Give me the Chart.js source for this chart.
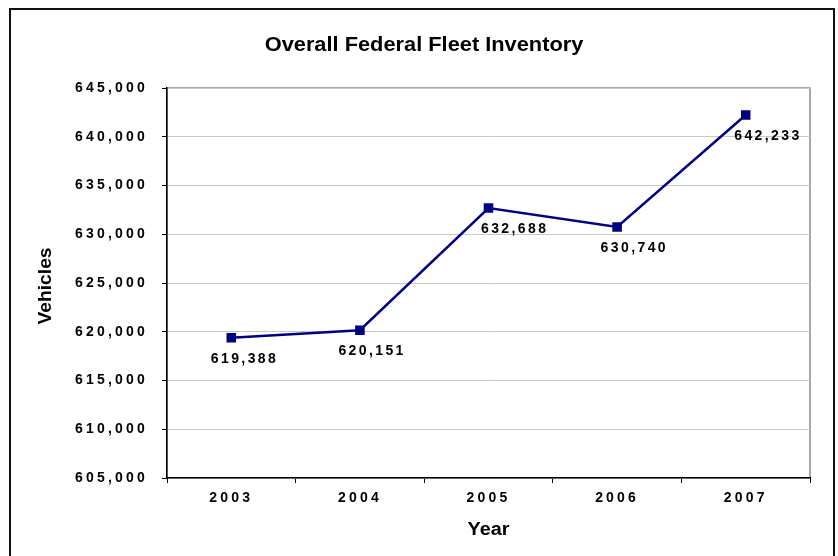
<!DOCTYPE html>
<html>
<head>
<meta charset="utf-8">
<title>Overall Federal Fleet Inventory</title>
<script src="https://cdn.jsdelivr.net/npm/chart.js@4.4.1/dist/chart.umd.min.js"></script>
<style>
  html, body { margin: 0; padding: 0; background: #fff; }
  #chart { display: block; }
</style>
</head>
<body>
<canvas id="chart" width="838" height="556"></canvas>
<script>
// data
const years = ['2003', '2004', '2005', '2006', '2007'];
const vehicles = [619388, 620151, 632688, 630740, 642233];
const yMin = 605000;
const yMax = 645000;
const yStep = 5000;

const chartTitle = 'Overall Federal Fleet Inventory';
const xTitle = 'Year';
const yTitle = 'Vehicles';

const FONT = "'Liberation Sans', Arial, sans-serif";

// text drawn squeezed/stretched sideways like the original export
function wideText(ctx, text, x, y, sx, angle) {
  ctx.save();
  ctx.translate(x, y);
  ctx.rotate(angle || 0);
  ctx.scale(sx, 1);
  ctx.fillText(text, 0, 0);
  ctx.restore();
}

const framePlugin = {
  id: 'frame',
  beforeDraw(chart) {
    const ctx = chart.ctx;
    const a = chart.chartArea;
    ctx.save();
    ctx.fillStyle = '#fff';
    ctx.fillRect(0, 0, chart.width, chart.height);
    // outer border of the chart object
    ctx.strokeStyle = '#111';
    ctx.lineWidth = 2;
    ctx.strokeRect(10, 9, 824, 600);
    // plot area border (gray top/right)
    ctx.strokeStyle = '#8c8c8c';
    ctx.lineWidth = 1.5;
    ctx.strokeRect(a.left, a.top, a.right - a.left, a.bottom - a.top);
    ctx.restore();
    // tick labels in the original are spaced out
    ctx.letterSpacing = '3.2px';
  },
  afterDatasetsDraw(chart, args, opts) {
    const ctx = chart.ctx;
    const meta = chart.getDatasetMeta(0);
    ctx.save();
    ctx.letterSpacing = opts.spacing + 'px';
    ctx.font = 'bold 14px ' + FONT;
    ctx.fillStyle = '#000';
    ctx.textAlign = 'center';
    ctx.textBaseline = 'middle';
    meta.data.forEach((pt, i) => {
      const text = vehicles[i].toLocaleString('en-US');
      ctx.fillText(text, pt.x + opts.nudge[i] + opts.spacing / 2, pt.y + opts.drop);
    });
    ctx.restore();
  },
  afterDraw(chart) {
    const ctx = chart.ctx;
    const a = chart.chartArea;
    ctx.save();
    ctx.letterSpacing = '0px';
    ctx.fillStyle = '#000';
    ctx.textAlign = 'center';
    ctx.textBaseline = 'alphabetic';
    ctx.font = 'bold 20px ' + FONT;
    wideText(ctx, chartTitle, 424, 51, 1.09);
    ctx.font = 'bold 18px ' + FONT;
    wideText(ctx, xTitle, (a.left + a.right) / 2, 535, 1.1);
    wideText(ctx, yTitle, 51, 286, 1.07, -Math.PI / 2);
    ctx.restore();
  }
};

new Chart(document.getElementById('chart'), {
  type: 'line',
  data: {
    labels: years,
    datasets: [{
      data: vehicles,
      borderColor: '#000080',
      backgroundColor: '#000080',
      borderWidth: 2.5,
      pointStyle: 'rect',
      pointRadius: 5,
      pointHoverRadius: 5,
      tension: 0
    }]
  },
  options: {
    responsive: false,
    animation: false,
    events: [],
    layout: { padding: { top: 88, right: 28, left: 0, bottom: 0 } },
    plugins: {
      legend: { display: false },
      title: { display: false },
      tooltip: { enabled: false },
      frame: { spacing: 2.4, drop: 21, nudge: [12, 11, 25, 16, 21] }
    },
    scales: {
      x: {
        offset: true,
        afterFit(scale) { scale.height = 78; },
        grid: {
          offset: true,
          drawOnChartArea: false,
          tickLength: 5,
          tickColor: '#000',
          tickWidth: 1
        },
        border: { color: '#000', width: 1.5 },
        ticks: {
          color: '#000',
          padding: 7,
          font: { family: FONT, size: 14, weight: 'bold' }
        }
      },
      y: {
        min: yMin,
        max: yMax,
        afterFit(scale) { scale.width = 167; },
        grid: {
          color: '#c8c8c8',
          lineWidth: 1,
          tickLength: 5,
          tickColor: '#000',
          tickWidth: 1
        },
        border: { color: '#000', width: 1.5 },
        ticks: {
          stepSize: yStep,
          color: '#000',
          padding: 14,
          font: { family: FONT, size: 14, weight: 'bold' },
          callback: (v) => v.toLocaleString('en-US')
        }
      }
    }
  },
  plugins: [framePlugin]
});
</script>
</body>
</html>
